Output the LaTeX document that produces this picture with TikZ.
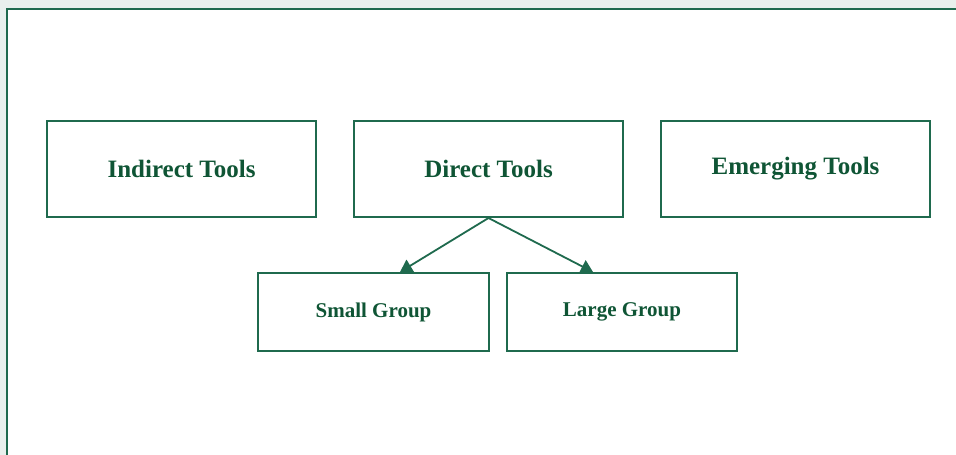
\documentclass[tikz,border=0pt]{standalone}
\usepackage{fontspec}
\setmainfont{Liberation Serif}
\usetikzlibrary{arrows.meta}
\definecolor{pagebg}{HTML}{E9F0ED}
\definecolor{framegreen}{HTML}{1F6A4E}
\definecolor{textgreen}{HTML}{0F5535}
\tikzset{
  toolbox/.style={draw=framegreen, line width=2pt, fill=white, minimum width=269pt, minimum height=96pt,
    inner sep=0pt, font=\bfseries\fontsize{25}{30}\selectfont, text=textgreen},
  groupbox/.style={draw=framegreen, line width=2pt, fill=white, minimum width=230pt, minimum height=78pt,
    inner sep=0pt, font=\bfseries\fontsize{21}{25}\selectfont, text=textgreen},
  arr/.style={draw=framegreen, line width=1.8pt, -{Triangle[width=14pt,length=12pt]}}
}
\begin{document}
\begin{tikzpicture}[x=1pt,y=-1pt]
  \useasboundingbox (0,0) rectangle (956,455);
  \fill[pagebg] (0,0) rectangle (956,455);
  \fill[white] (7,9) rectangle (956,455);
  \draw[framegreen, line width=2pt] (7,455) -- (7,9) -- (956,9);

  \node[toolbox] (indirect) at (181.5,169) {Indirect Tools};
  \node[toolbox] (direct)   at (488.5,169) {Direct Tools};
  \node[toolbox] (emerging) at (795.5,169) {Emerging Tools};

  \node[groupbox, minimum width=231pt] (small) at (373.5,312) {Small Group};
  \node[groupbox] (large) at (622,312) {Large Group};

  \draw[arr] (direct.south) -- ([xshift=26.5pt]small.north);
  \draw[arr] (direct.south) -- ([xshift=-29pt]large.north);
\end{tikzpicture}
\end{document}
